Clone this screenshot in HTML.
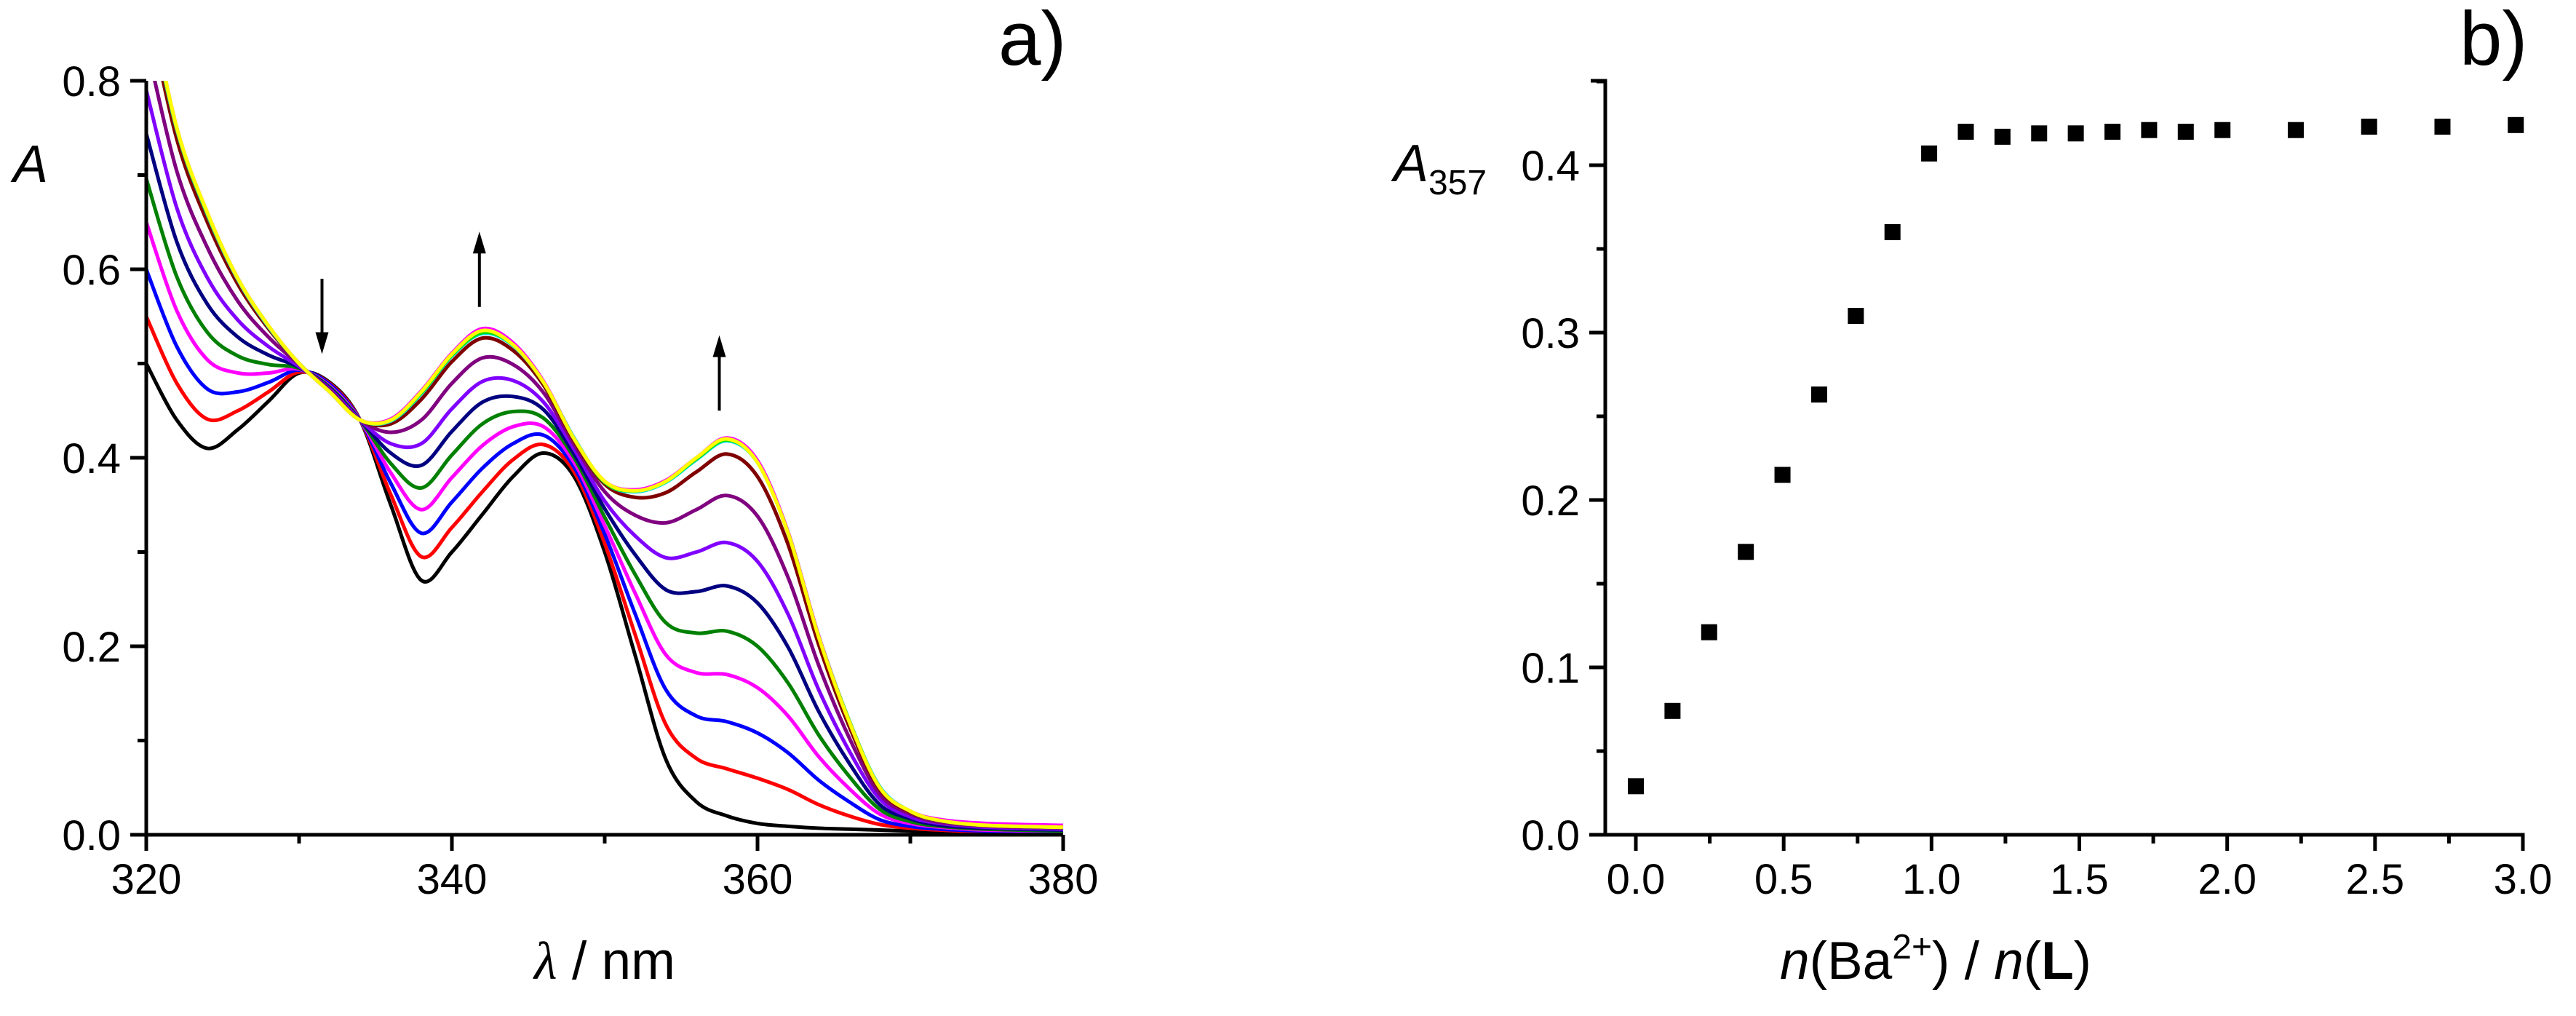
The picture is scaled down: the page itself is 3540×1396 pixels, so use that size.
<!DOCTYPE html>
<html><head><meta charset="utf-8"><style>
html,body{margin:0;padding:0;background:#fff;}
svg{display:block;font-family:"Liberation Sans",sans-serif;}
</style></head><body>
<svg id="fig" width="3540" height="1396" viewBox="0 0 3540 1396" xmlns="http://www.w3.org/2000/svg">
<defs><clipPath id="clipA"><rect x="201" y="111" width="1262" height="1036"/></clipPath></defs>
<g id="panelA"></g>
<g id="panelB"></g>
<text x="1372" y="89" font-size="105">a)</text>
<text x="3380" y="89" font-size="105">b)</text>
<text x="18" y="250" font-size="72" font-style="italic">A</text>
<text x="1915" y="249" font-size="72" font-style="italic">A<tspan font-style="normal" font-size="48" dy="18">357</tspan></text>
<text x="831" y="1345" font-size="73" text-anchor="middle"><tspan font-family="'Liberation Serif',serif" font-style="italic">λ</tspan> / nm</text>
<text x="2660" y="1345" font-size="73" text-anchor="middle"><tspan font-style="italic">n</tspan>(Ba<tspan font-size="48" dy="-28">2+</tspan><tspan dy="28">) / </tspan><tspan font-style="italic">n</tspan>(<tspan font-weight="bold">L</tspan>)</text>
</svg>
<script>
// ---- Panel a data ----
const wavelengths = [320,322,324,326,328,330,332,334,336,338,340,342,344,346,348,350,352,354,356,358,360,362,364,366,368,370,372,375,380];
const specBlack = [.50,.44,.41,.43,.46,.49,.48,.44,.35,.27,.30,.34,.38,.405,.38,.30,.19,.08,.035,.02,.012,.009,.007,.006,.005,.004,.003,.002,.001];
const specRed = [.55,.479,.441,.45,.47,.491,.479,.44,.361,.295,.326,.364,.398,.414,.385,.309,.212,.117,.081,.07,.06,.048,.032,.020,.011,.007,.005,.003,.002];
const specBlue = [.60,.518,.473,.47,.48,.493,.478,.44,.373,.32,.353,.389,.415,.424,.39,.319,.234,.154,.126,.12,.108,.087,.058,.035,.016,.009,.006,.004,.003];
const specMagenta = [.65,.556,.504,.49,.49,.494,.476,.44,.384,.345,.379,.413,.433,.433,.395,.328,.256,.191,.172,.17,.156,.126,.083,.049,.022,.012,.008,.005,.004];
const specGreen = [.696,.592,.533,.508,.499,.495,.475,.44,.394,.368,.403,.436,.449,.442,.40,.337,.276,.225,.214,.216,.20,.161,.106,.062,.027,.014,.009,.006,.004];
const specNavy = [.744,.629,.563,.528,.509,.496,.474,.44,.405,.392,.428,.459,.465,.451,.404,.346,.297,.26,.258,.264,.246,.199,.131,.076,.032,.017,.010,.007,.005];
const specViolet = [.79,.665,.591,.546,.518,.497,.473,.44,.415,.415,.452,.481,.482,.459,.409,.354,.317,.294,.30,.31,.29,.234,.154,.089,.038,.019,.012,.008,.006];
const specPurple = [.84,.704,.623,.566,.528,.499,.472,.44,.427,.44,.479,.506,.499,.469,.414,.364,.339,.331,.345,.36,.338,.273,.18,.103,.043,.022,.013,.009,.007];
const specMaroon = [.884,.738,.65,.584,.537,.50,.47,.44,.436,.462,.502,.527,.514,.477,.418,.372,.358,.363,.385,.404,.38,.308,.202,.115,.048,.024,.015,.010,.008];
const specCyan = [.895,.748,.658,.589,.539,.50,.47,.44,.439,.468,.508,.532,.519,.48,.421,.374,.364,.374,.398,.418,.395,.32,.211,.121,.051,.025,.015,.01,.008];
const specLime = [.898,.749,.659,.59,.54,.50,.47,.44,.44,.469,.509,.533,.52,.48,.42,.374,.365,.375,.399,.419,.396,.321,.211,.121,.05,.025,.015,.01,.008];
const specPink = [.9,.75,.66,.59,.54,.50,.47,.44,.441,.471,.511,.537,.522,.481,.42,.375,.366,.376,.40,.421,.397,.321,.211,.12,.05,.025,.016,.012,.01];
const specYellow = [.90,.75,.66,.59,.54,.50,.47,.44,.44,.47,.51,.535,.52,.48,.42,.375,.365,.375,.40,.42,.395,.32,.21,.12,.05,.025,.015,.01,.008];
const seriesA = [specBlack,specRed,specBlue,specMagenta,specGreen,specNavy,specViolet,specPurple,specMaroon,specCyan,specLime,specPink,specYellow];
const seriesNames = ['black','red','blue','magenta','green','navy','violet','purple','maroon','cyan','lime','pink','yellow'];
const seriesColors = ['#000000','#ff0000','#0000ff','#ff00ff','#008000','#000080','#8000ff','#800080','#800000','#00e0e0','#00e000','#ff00ff','#ffff00'];
const xTicksA = [320,340,360,380];
const yTicksA = [0.0,0.2,0.4,0.6,0.8];
const arrowX = [331.5,341.8,357.5];
const arrowFrom = [0.59,0.56,0.45];
const arrowTo = [0.51,0.64,0.53];
// ---- Panel b data ----
const ratioB = [0,0.124,0.248,0.372,0.496,0.62,0.744,0.868,0.992,1.116,1.24,1.364,1.488,1.612,1.736,1.86,1.984,2.232,2.48,2.728,2.976];
const absB = [.029,.074,.121,.169,.215,.263,.310,.360,.407,.420,.417,.419,.419,.420,.421,.420,.421,.421,.423,.423,.424];
const xTicksB = [0.0,0.5,1.0,1.5,2.0,2.5,3.0];
const yTicksB = [0.0,0.1,0.2,0.3,0.4];

const NS='http://www.w3.org/2000/svg';
function mk(tag, attrs, parent){const e=document.createElementNS(NS,tag);for(const k in attrs)e.setAttribute(k,attrs[k]);parent.appendChild(e);return e;}

// axes functions
const xA = v => 201 + (v-320)*(1461-201)/60;
const yA = v => 1147 - v*(1147-111)/0.8;
const xB = v => 2248 + v*(3467-2248)/3;
const yB = v => 1147 - v*(1147-227)/0.4;

const gA = document.getElementById('panelA');
const gB = document.getElementById('panelB');

// spectra
const curves = mk('g',{'clip-path':'url(#clipA)'},gA);


seriesA.forEach((s,si)=>{
  const pts = s.map((v,i)=>[xA(wavelengths[i]),yA(v)]);
  let d='M'+pts[0][0]+','+pts[0][1];
  for(let i=0;i<pts.length-1;i++){
    const p0=pts[Math.max(0,i-1)],p1=pts[i],p2=pts[i+1],p3=pts[Math.min(pts.length-1,i+2)];
    const c1=[p1[0]+(p2[0]-p0[0])/6,p1[1]+(p2[1]-p0[1])/6];
    const c2=[p2[0]-(p3[0]-p1[0])/6,p2[1]-(p3[1]-p1[1])/6];
    d+=' C'+c1[0]+','+c1[1]+' '+c2[0]+','+c2[1]+' '+p2[0]+','+p2[1];
  }
  const p = mk('path',{d:d,fill:'none',stroke:seriesColors[si],'stroke-width':5,'stroke-linejoin':'round'},curves);
  
  
});

// arrows
arrowX.forEach((ax,i)=>{
  const x=xA(ax), y1=yA(arrowFrom[i]), y2=yA(arrowTo[i]);
  const dir = y2>y1?1:-1;
  const g = mk('g',{},gA);
  
  
  mk('line',{x1:x,y1:y1,x2:x,y2:y2-dir*26,stroke:'#000','stroke-width':4},g);
  mk('polygon',{points:`${x-9},${y2-dir*30} ${x+9},${y2-dir*30} ${x},${y2}`,fill:'#000'},g);
});

// panel a axes
const axA = mk('g',{},gA);


mk('path',{d:`M${xA(320)},${yA(0.8)} V${yA(0)} H${xA(380)}`,fill:'none',stroke:'#000','stroke-width':5},axA);
for(let v=320;v<=380;v+=10){const major=(v%20===0);mk('line',{x1:xA(v),y1:1147,x2:xA(v),y2:1147+(major?22:12),stroke:'#000','stroke-width':5},axA);}
for(let k=0;k<=8;k++){const v=k/10;const major=(k%2===0);mk('line',{x1:201,y1:yA(v),x2:201-(major?22:12),y2:yA(v),stroke:'#000','stroke-width':5},axA);}
xTicksA.forEach(v=>{const t=mk('text',{x:xA(v),y:1228,'font-size':58,'text-anchor':'middle'},axA);t.textContent=v;
  });
yTicksA.forEach(v=>{const t=mk('text',{x:166,y:yA(v)+21,'font-size':58,'text-anchor':'end'},axA);t.textContent=v.toFixed(1);
  });

// panel b axes
const axB = mk('g',{},gB);


mk('path',{d:`M2186,111 H2206 V1147 H${xB(3.0)} V1167`,fill:'none',stroke:'#000','stroke-width':5},axB);
mk('line',{x1:2186,y1:1147,x2:2206,y2:1147,stroke:'#000','stroke-width':5},axB);
for(let k=0;k<=12;k++){const v=k*0.25;const major=(k%2===0);mk('line',{x1:xB(v),y1:1147,x2:xB(v),y2:1147+(major?22:12),stroke:'#000','stroke-width':5},axB);}
for(let k=0;k<=9;k++){const v=k*0.05;const major=(k%2===0);mk('line',{x1:2206,y1:yB(v),x2:2206-(major?22:12),y2:yB(v),stroke:'#000','stroke-width':5},axB);}
xTicksB.forEach(v=>{const t=mk('text',{x:xB(v),y:1228,'font-size':58,'text-anchor':'middle'},axB);t.textContent=v.toFixed(1);
  });
yTicksB.forEach(v=>{const t=mk('text',{x:2171,y:yB(v)+21,'font-size':58,'text-anchor':'end'},axB);t.textContent=v.toFixed(1);
  });

// panel b markers
ratioB.forEach((r,i)=>{
  const m = mk('rect',{x:xB(r)-11,y:yB(absB[i])-11,width:22,height:22,fill:'#000'},gB);
  
  
});
</script>
</body></html>
